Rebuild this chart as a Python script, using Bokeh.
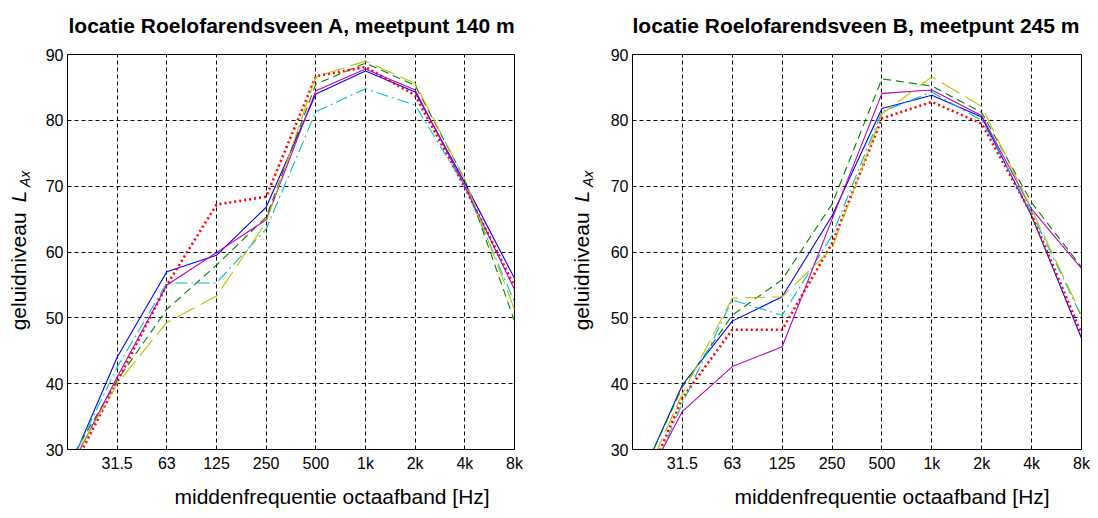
import math
from bokeh.plotting import figure
from bokeh.layouts import row, column
from bokeh.models import Label, FixedTicker, Range1d, Title
from bokeh.embed import file_html
from bokeh.resources import INLINE

# octave bands: index 0 = 16 Hz (unlabelled), 1..9 = 31.5 Hz .. 8 kHz
band_index = [0, 1, 2, 3, 4, 5, 6, 7, 8, 9]
tick_labels = ["31.5", "63", "125", "250", "500", "1k", "2k", "4k", "8k"]
y_ticks = [30, 40, 50, 60, 70, 80, 90]

title_a = "locatie Roelofarendsveen A, meetpunt 140 m"
title_b = "locatie Roelofarendsveen B, meetpunt 245 m"
x_label = "middenfrequentie octaafband [Hz]"
y_label = "geluidniveau"
y_label_sym = "L"
y_label_sub = "Ax"

# Location A
a_blue = [26.5, 44.0, 57.0, 59.5, 66.8, 84.0, 87.5, 84.3, 70.5, 56.0]
a_green = [27.7, 40.5, 51.3, 58.0, 65.3, 85.5, 88.7, 85.3, 71.0, 49.5]
a_red = [25.6, 40.3, 55.0, 67.2, 68.4, 86.7, 88.1, 83.8, 69.8, 54.8]
a_cyan = [27.0, 42.5, 55.3, 55.3, 63.5, 81.3, 84.8, 82.3, 70.0, 52.4]
a_magenta = [26.3, 41.0, 55.0, 59.9, 64.9, 84.5, 87.8, 84.6, 70.0, 54.3]
a_yellow = [27.0, 40.0, 49.3, 53.3, 64.5, 86.6, 89.0, 85.6, 71.0, 51.3]

# Location B
b_blue = [22.9, 39.8, 49.5, 53.2, 65.5, 81.8, 83.8, 80.5, 65.5, 46.9]
b_green = [23.1, 39.5, 50.4, 55.8, 67.3, 86.3, 85.2, 81.2, 67.5, 57.7]
b_red = [20.1, 37.8, 48.2, 48.2, 61.3, 80.3, 82.8, 79.5, 65.7, 47.6]
b_cyan = [19.5, 37.0, 52.7, 50.4, 62.5, 81.3, 84.3, 80.0, 66.0, 50.2]
b_magenta = [21.3, 35.8, 42.6, 45.6, 65.0, 84.1, 84.6, 80.7, 66.5, 57.5]
b_yellow = [21.5, 38.5, 53.0, 53.2, 60.5, 81.0, 86.6, 82.1, 66.5, 50.4]

styles = [
    ("#0000FF", None, 1.1),
    ("#008000", "8 5", 1.1),
    ("#FF0000", "2 3", 2.6),
    ("#00BFBF", "12 4 2 4", 1.1),
    ("#BF00BF", None, 1.1),
    ("#BFBF00", "20 7", 1.1),
]

FONT = "Liberation Sans"
H = 516          # total height
W = 1096         # total width
TOP = 42         # title strip height
PH = H - TOP     # panel height
FRAME_TOP = 54   # page y of the plot frames
FRAME_BOT = 451


def blank(width, height, top=0, bottom=0, y_lo=None, y_hi=None):
    # a canvas without axes; coordinates are pixels (y up)
    if y_lo is None:
        y_lo, y_hi = 0, height
    q = figure(width=width, height=height, x_range=Range1d(0, width), y_range=Range1d(y_lo, y_hi),
               output_backend="svg", toolbar_location=None,
               x_axis_location=None, y_axis_location=None,
               min_border_left=0, min_border_right=0, min_border_top=top, min_border_bottom=bottom)
    q.outline_line_color = None
    q.grid.visible = False
    q.background_fill_color = "white"
    q.border_fill_color = "white"
    return q


def make_titles():
    q = blank(W, TOP)
    for text, x0 in ((title_a, 68), (title_b, 632)):
        q.add_layout(Label(x=x0, y=TOP - 25, text=text, text_font=FONT, text_font_size="21px",
                           text_font_style="bold", text_align="left", text_baseline="alphabetic",
                           text_color="black"))
    return q


def make_panel(series, width, left, right, xlabel_offset):
    p = figure(width=width, height=PH, x_range=Range1d(0, 9), y_range=Range1d(30, 90),
               output_backend="svg", toolbar_location=None,
               min_border_left=left, min_border_right=right,
               min_border_top=FRAME_TOP - TOP, min_border_bottom=H - FRAME_BOT)
    p.background_fill_color = "white"
    p.border_fill_color = "white"
    p.outline_line_color = "black"
    p.outline_line_width = 1
    p.outline_line_alpha = 1

    p.xaxis.ticker = FixedTicker(ticks=band_index[1:])
    p.xaxis.major_label_overrides = {i + 1: t for i, t in enumerate(tick_labels)}
    p.yaxis.ticker = FixedTicker(ticks=y_ticks)
    for ax in (p.xaxis, p.yaxis):
        ax.axis_line_color = "black"
        ax.major_tick_in = 0
        ax.major_tick_out = 0
        ax.minor_tick_in = 0
        ax.minor_tick_out = 0
        ax.major_label_text_font = FONT
        ax.major_label_text_font_size = "16px"
        ax.major_label_text_color = "black"
        ax.major_label_standoff = 5
    p.yaxis.major_label_standoff = 4

    p.xgrid.ticker = FixedTicker(ticks=band_index[1:])
    p.ygrid.ticker = FixedTicker(ticks=y_ticks)
    for g in (p.xgrid, p.ygrid):
        g.grid_line_color = "black"
        g.grid_line_alpha = 1
        g.grid_line_width = 1
        g.grid_line_dash = "4 3"

    for ys, (col, dash, lw) in zip(series, styles):
        kw = dict(line_color=col, line_width=lw)
        if dash:
            kw["line_dash"] = dash
        p.line(band_index, ys, **kw)

    p.add_layout(Title(text=x_label, align="left", offset=xlabel_offset, standoff=17,
                       text_font=FONT, text_font_size="21px", text_font_style="normal",
                       text_color="black"), "below")
    return p


def make_ylabel(width, center_x):
    # same frame rows as the panels; y values are H - page_y
    q = blank(width, PH, top=FRAME_TOP - TOP, bottom=H - FRAME_BOT,
              y_lo=H - FRAME_BOT, y_hi=H - FRAME_TOP)
    common = dict(angle=math.pi / 2, text_align="center", text_baseline="middle",
                  text_font=FONT, text_color="black")
    q.add_layout(Label(x=center_x, y=H - 272.0, text=y_label, text_font_size="21px", **common))
    q.add_layout(Label(x=center_x, y=H - 197.0, text=y_label_sym, text_font_size="21px",
                       text_font_style="italic", **common))
    q.add_layout(Label(x=center_x + 7, y=H - 179.0, text=y_label_sub, text_font_size="14px",
                       text_font_style="italic", **common))
    return q


ya = make_ylabel(35, 17.7)
p1 = make_panel([a_blue, a_green, a_red, a_cyan, a_magenta, a_yellow], 499, 32, 20, 107)
yb = make_ylabel(64, 46.7)
p2 = make_panel([b_blue, b_green, b_red, b_cyan, b_magenta, b_yellow], 498, 34, 15, 102)

layout = column(make_titles(), row(ya, p1, yb, p2))
open("out.html", "w").write(file_html(layout, INLINE))
